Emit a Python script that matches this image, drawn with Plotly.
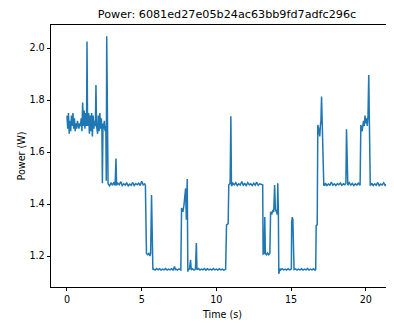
import plotly.graph_objects as go

title_text = "Power: 6081ed27e05b24ac63bb9fd7adfc296c"
x_label = "Time (s)"
y_label = "Power (W)"
x_ticks = [0, 5, 10, 15, 20]
y_ticks = [1.2, 1.4, 1.6, 1.8, 2.0]

# segment 1: noisy high block 0 - 2.7 s
t_a = [0.00, 0.05, 0.10, 0.15, 0.20, 0.25, 0.30, 0.35, 0.40, 0.45, 0.50, 0.55, 0.60, 0.65,
       0.70, 0.75, 0.80, 0.85, 0.90, 0.95, 1.00, 1.05, 1.10, 1.15, 1.20, 1.25, 1.31, 1.34,
       1.38, 1.45, 1.50, 1.55, 1.60, 1.65, 1.70, 1.75, 1.80, 1.85, 1.90, 1.94, 1.98, 2.05,
       2.10, 2.15, 2.20, 2.25, 2.30, 2.34, 2.37, 2.41, 2.45, 2.50, 2.55, 2.60, 2.63, 2.66,
       2.70]
p_a = [1.74, 1.69, 1.75, 1.67, 1.72, 1.68, 1.74, 1.70, 1.75, 1.69, 1.73, 1.68, 1.71, 1.69,
       1.72, 1.70, 1.69, 1.71, 1.70, 1.73, 1.68, 1.79, 1.70, 1.76, 1.69, 1.75, 1.70, 2.025,
       1.70, 1.75, 1.67, 1.74, 1.68, 1.75, 1.66, 1.74, 1.69, 1.72, 1.70, 1.858, 1.70, 1.67,
       1.74, 1.68, 1.75, 1.69, 1.73, 1.68, 1.48, 1.71, 1.69, 1.72, 1.68, 1.70, 1.49, 2.045,
       1.48]

# segment 2: 1.475 W plateau, drop, low plateau
t_b = [2.75, 2.85, 2.95, 3.05, 3.15, 3.22, 3.28, 3.32, 3.40, 3.50, 3.60, 3.70, 3.80, 3.90,
       4.00, 4.10, 4.20, 4.30, 4.40, 4.50, 4.60, 4.70, 4.80, 4.90, 5.00, 5.10, 5.20, 5.25,
       5.28, 5.32, 5.40, 5.48, 5.55, 5.60, 5.66, 5.70, 5.75]
p_b = [1.478, 1.470, 1.482, 1.472, 1.485, 1.471, 1.575, 1.472, 1.480, 1.474, 1.486, 1.471,
       1.478, 1.473, 1.481, 1.470, 1.477, 1.472, 1.483, 1.471, 1.479, 1.474, 1.480, 1.471,
       1.488, 1.474, 1.478, 1.472, 1.22, 1.21, 1.205, 1.21, 1.20, 1.21, 1.435, 1.20, 1.148]

t_c = [5.80, 5.90, 6.00, 6.10, 6.20, 6.30, 6.40, 6.50, 6.60, 6.70, 6.80, 6.90, 7.00, 7.10,
       7.20, 7.25, 7.30, 7.40, 7.50, 7.62, 7.67, 7.72, 7.76, 7.83, 7.94, 7.99, 8.05, 8.09,
       8.12, 8.20, 8.27, 8.32, 8.40, 8.50, 8.60, 8.66, 8.70, 8.80, 8.90, 9.00, 9.10, 9.20,
       9.30, 9.40, 9.50, 9.60, 9.70, 9.80, 9.90, 10.00, 10.10, 10.20, 10.30, 10.40, 10.50,
       10.62]
p_c = [1.150, 1.146, 1.152, 1.147, 1.151, 1.146, 1.150, 1.147, 1.152, 1.146, 1.150, 1.147,
       1.151, 1.146, 1.160, 1.148, 1.150, 1.146, 1.151, 1.147, 1.385, 1.37, 1.37, 1.396,
       1.46, 1.34, 1.496, 1.14, 1.148, 1.150, 1.185, 1.147, 1.151, 1.146, 1.150, 1.25,
       1.148, 1.152, 1.146, 1.150, 1.147, 1.152, 1.146, 1.151, 1.147, 1.150, 1.146, 1.152,
       1.147, 1.150, 1.146, 1.151, 1.147, 1.150, 1.146, 1.149]

# segment 3: rise, 1.475 plateau, drop region
t_d = [10.68, 10.79, 10.83, 10.92, 10.97, 11.01, 11.05, 11.10, 11.20, 11.30, 11.40, 11.50,
       11.60, 11.70, 11.80, 11.90, 12.00, 12.10, 12.20, 12.30, 12.40, 12.50, 12.60, 12.70,
       12.80, 12.90, 13.00, 13.10, 13.13, 13.20, 13.24, 13.28, 13.35, 13.42, 13.50, 13.58,
       13.63, 13.70, 13.78, 13.84, 13.90, 13.95, 14.02, 14.08, 14.11, 14.15, 14.18]
p_d = [1.32, 1.325, 1.473, 1.48, 1.738, 1.47, 1.472, 1.480, 1.474, 1.482, 1.471, 1.478,
       1.473, 1.487, 1.472, 1.479, 1.471, 1.482, 1.474, 1.478, 1.471, 1.480, 1.473, 1.484,
       1.472, 1.478, 1.475, 1.474, 1.208, 1.21, 1.35, 1.21, 1.205, 1.212, 1.205, 1.21,
       1.37, 1.36, 1.377, 1.37, 1.473, 1.38, 1.37, 1.36, 1.48, 1.37, 1.132]

t_e = [14.25, 14.30, 14.40, 14.50, 14.60, 14.70, 14.80, 14.90, 15.00, 15.02, 15.04, 15.08,
       15.12, 15.16, 15.20, 15.30, 15.40, 15.50, 15.60, 15.70, 15.80, 15.90, 16.00, 16.10,
       16.20, 16.30, 16.40, 16.50, 16.60, 16.65, 16.68, 16.75, 16.79, 16.84, 16.88, 16.92,
       16.96, 17.00, 17.04, 17.08, 17.12, 17.19]
p_e = [1.152, 1.146, 1.151, 1.147, 1.150, 1.146, 1.151, 1.147, 1.150, 1.150, 1.33, 1.35,
       1.34, 1.15, 1.148, 1.151, 1.146, 1.150, 1.147, 1.151, 1.146, 1.150, 1.147, 1.152,
       1.146, 1.150, 1.147, 1.151, 1.146, 1.149, 1.317, 1.32, 1.704, 1.69, 1.68, 1.66,
       1.70, 1.72, 1.813, 1.74, 1.68, 1.473]

t_f = [17.25, 17.30, 17.40, 17.50, 17.60, 17.70, 17.80, 17.90, 18.00, 18.10, 18.20, 18.30,
       18.40, 18.50, 18.60, 18.67, 18.71, 18.75, 18.80, 18.90, 19.00, 19.10, 19.20, 19.30,
       19.40, 19.50, 19.62, 19.67, 19.72, 19.76, 19.80, 19.85, 19.90, 19.95, 20.00, 20.05,
       20.10, 20.15, 20.20, 20.24, 20.30, 20.35, 20.40, 20.50, 20.60, 20.70, 20.80, 20.90,
       21.00, 21.10, 21.20, 21.30, 21.38]
p_f = [1.472, 1.480, 1.471, 1.477, 1.473, 1.484, 1.472, 1.478, 1.471, 1.479, 1.474, 1.481,
       1.472, 1.478, 1.474, 1.480, 1.688, 1.476, 1.472, 1.482, 1.473, 1.479, 1.471, 1.478,
       1.473, 1.480, 1.472, 1.704, 1.69, 1.68, 1.70, 1.72, 1.70, 1.74, 1.71, 1.73, 1.70,
       1.74, 1.896, 1.68, 1.473, 1.474, 1.480, 1.471, 1.478, 1.472, 1.483, 1.471, 1.477,
       1.473, 1.482, 1.471, 1.476]

time_s = t_a + t_b + t_c + t_d + t_e + t_f
power_w = p_a + p_b + p_c + p_d + p_e + p_f

fig = go.Figure()
fig.add_trace(go.Scatter(x=time_s, y=power_w, mode="lines",
                         line=dict(color="#1f77b4", width=1.5), showlegend=False))

# the page places the figure 8 px in from the top-left corner; size and margins compensate
W, H = 386, 315
font_family = "DejaVu Sans"
fig.update_layout(
    width=W, height=H,
    margin=dict(l=43, r=0, t=17, b=36, autoexpand=False),
    plot_bgcolor="white", paper_bgcolor="white",
    font=dict(family=font_family, color="black", size=9.5),
    title=dict(text=title_text, x=219 / W, xanchor="center", xref="container",
               y=1 - 6 / H, yanchor="middle", yref="container",
               font=dict(size=11.2, family=font_family, color="black")),
)
fig.update_xaxes(range=[-1.07, 21.89], tickvals=x_ticks, ticktext=[str(v) for v in x_ticks],
                 automargin=False,
                 showgrid=False, zeroline=False, showline=True, linecolor="black", linewidth=0.8,
                 mirror=True, ticks="outside", ticklen=3.5, tickwidth=0.8, tickcolor="black",
                 title=dict(text=x_label, standoff=7, font=dict(size=9.6)),
                 tickfont=dict(size=9.6))
fig.update_yaxes(range=[1.081, 2.0885], tickvals=y_ticks,
                 ticktext=["%.1f" % v for v in y_ticks], automargin=False,
                 showgrid=False, zeroline=False, showline=True, linecolor="black", linewidth=0.8,
                 mirror=False, ticks="outside", ticklen=3.5, tickwidth=0.8, tickcolor="black",
                 title=dict(text=y_label, standoff=2, font=dict(size=9.6)),
                 tickfont=dict(size=9.6))

fig.write_html("out.html")
